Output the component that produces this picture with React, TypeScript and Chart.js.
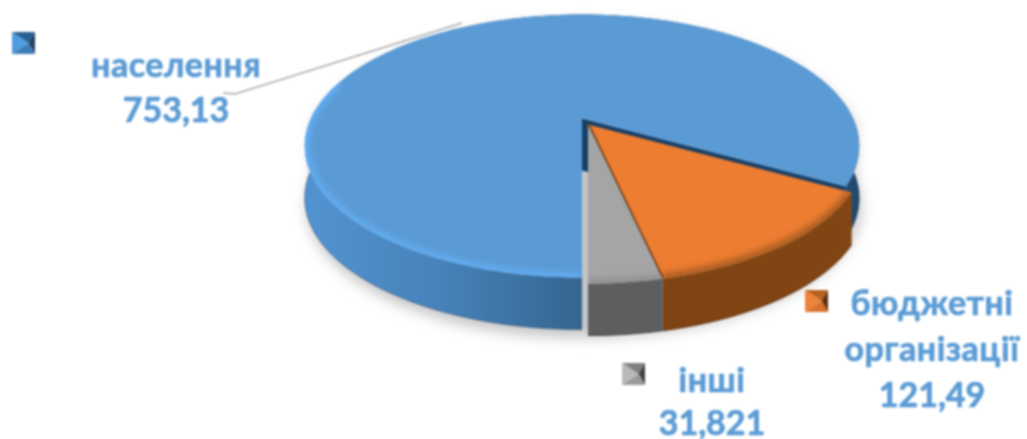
import React, { useEffect, useRef } from "react";
import { Chart, registerables } from "chart.js";

Chart.register(...registerables);

const categories = [["населення"], ["бюджетні", "організації"], ["інші"]];
const seriesValues = [753.13, 121.49, 31.821];
const valueLabels = ["753,13", "121,49", "31,821"];
const topColors = ["#5b9bd5", "#ed7d31", "#a5a5a5"];
const rimColors = ["#62aef4", "#a85c22", "#8f8f8f"];
const swatchLight = ["#4f9ae0", "#ee8238", "#b8b8b8"];
const swatchDark = ["#1f3f5f", "#5f2f0c", "#3f3f3f"];
const swatchTop = ["#2a5f92", "#b8601f", "#808080"];
const swatchBottom = ["#3d7cb8", "#d9722c", "#9a9a9a"];

// layout of the text blocks: centre x, first baseline, line step, swatch left/top
const labelCentres = [176, 932, 712];
const labelBaselines = [77, 315, 392];
const labelSteps = [45, 46, 43];
const swatchSpots = [[12, 32], [805, 290], [622, 363]];
const sliceShift = [[0, 0], [6, 6], [6, 6]];

const K = 0.2092;
const RX = 1.235;
const RY = 0.573;
const LIFT = -101;
const DEPTH = 52;

const piePlugin = {
  id: "pie3d",
  beforeDatasetDraw() {
    return false;
  },
  beforeDatasetsDraw(chart: any) {
    const ctx: CanvasRenderingContext2D = chart.ctx;
    const arcs = chart.getDatasetMeta(0).data as any[];
    const R = arcs[0].outerRadius;
    const cx = arcs[0].x;
    const cy = arcs[0].y + LIFT;
    const P = (a: number, r: number, ox: number, oy: number, z: number) => {
      const u = r * Math.cos(a);
      const v = r * Math.sin(a);
      const d = 1 - K * v;
      return [cx + ox + (R * RX * u) / d, cy + oy + (R * RY * v) / d + z * DEPTH];
    };
    const rim = (a0: number, a1: number, ox: number, oy: number, z: number) => {
      const n = Math.max(2, Math.ceil(Math.abs(a1 - a0) * 60));
      const pts: number[][] = [];
      for (let i = 0; i <= n; i++) pts.push(P(a0 + ((a1 - a0) * i) / n, 1, ox, oy, z));
      return pts;
    };
    const trace = (pts: number[][]) => {
      ctx.beginPath();
      pts.forEach((p, i) => (i ? ctx.lineTo(p[0], p[1]) : ctx.moveTo(p[0], p[1])));
    };
    const sideGrad = (i: number) => {
      const g = ctx.createLinearGradient(300, 0, 865, 0);
      if (i === 0) {
        g.addColorStop(0, "#5294d2");
        g.addColorStop(0.25, "#4782ba");
        g.addColorStop(0.5, "#34658f");
        g.addColorStop(0.9, "#35648f");
        g.addColorStop(1, "#1d4266");
      } else if (i === 1) {
        g.addColorStop(0, "#7a4012");
        g.addColorStop(1, "#824614");
      } else {
        g.addColorStop(0, "#5c5e60");
        g.addColorStop(1, "#5c5e60");
      }
      return g;
    };

    ctx.save();
    // soft ground shadow
    ctx.save();
    ctx.filter = "blur(7px)";
    ctx.fillStyle = "rgba(60,60,60,0.3)";
    trace(rim(0, Math.PI, 2, 8, 1).concat(rim(Math.PI, 2 * Math.PI, 2, 8, 0)));
    ctx.closePath();
    ctx.fill();
    ctx.restore();

    [0, 1, 2].forEach((i) => {
      const arc = arcs[i];
      const a0 = arc.startAngle;
      const a1 = arc.endAngle;
      const [ox, oy] = sliceShift[i];
      const top = rim(a0, a1, ox, oy, 0);
      const bottom = rim(a0, a1, ox, oy, 1).reverse();
      const hub = P(0, 0, ox, oy, 0);
      // inner radial wall of the big slice
      if (i === 0) {
        trace([hub, P(a1, 1, ox, oy, 0), P(a1, 1, ox, oy, 1), P(0, 0, ox, oy, 1)]);
        ctx.closePath();
        ctx.fillStyle = "#163f66";
        ctx.fill();
      }
      // outer wall
      trace(top.concat(bottom));
      ctx.closePath();
      ctx.fillStyle = sideGrad(i);
      ctx.fill();
      // dark lower edge
      ctx.save();
      ctx.strokeStyle = i === 2 ? "#3e4042" : i === 1 ? "#5a2c0a" : "rgba(28,63,96,0.55)";
      ctx.lineWidth = 1;
      trace(bottom);
      ctx.stroke();
      ctx.restore();
      // top face
      trace([hub, ...top]);
      ctx.closePath();
      ctx.fillStyle = topColors[i];
      ctx.fill();
      // soft bevel along the rim
      ctx.save();
      trace([hub, ...top]);
      ctx.closePath();
      ctx.clip();
      ctx.filter = "blur(3px)";
      ctx.strokeStyle = rimColors[i];
      ctx.lineWidth = i === 1 ? 10 : 9;
      trace(i === 0 ? rim(Math.PI / 2, Math.PI * 1.1, ox, oy, 0) : top);
      ctx.stroke();
      ctx.restore();
      if (i === 1) {
        ctx.save();
        ctx.strokeStyle = "#6b3610";
        ctx.lineWidth = 3;
        trace([hub, P(a1, 1, ox, oy, 0)]);
        ctx.stroke();
        ctx.restore();
      }
    });
    // leader line
    ctx.strokeStyle = "#a8a8a8";
    ctx.lineWidth = 1.5;
    trace([[223, 93], [235, 94], [462, 23]]);
    ctx.stroke();

    // labels and legend keys
    ctx.textAlign = "center";
    ctx.textBaseline = "alphabetic";
    ctx.font = "bold 34px Lato";
    ctx.lineWidth = 0.7;
    ctx.lineJoin = "round";
    categories.forEach((lines, i) => {
      ctx.fillStyle = "#5b9bd5";
      ctx.strokeStyle = "#5b9bd5";
      [...lines, valueLabels[i]].forEach((t, j) => {
        (ctx as any).letterSpacing = j < lines.length ? "0.5px" : "0px";
        const y = labelBaselines[i] + j * labelSteps[i];
        ctx.fillText(t, labelCentres[i], y);
        ctx.strokeText(t, labelCentres[i], y);
      });
      const [sx, sy] = swatchSpots[i];
      const w = 23;
      const h = 22;
      const mx = sx + w * 0.72;
      const my = sy + h / 2;
      const tri = (p: number[][], c: string) => {
        trace(p);
        ctx.closePath();
        ctx.fillStyle = c;
        ctx.fill();
      };
      tri([[sx, sy], [sx + w, sy], [mx, my]], swatchTop[i]);
      tri([[sx, sy], [sx, sy + h], [mx, my]], swatchLight[i]);
      tri([[sx + w, sy], [sx + w, sy + h], [mx, my]], swatchDark[i]);
      tri([[sx, sy + h], [sx + w, sy + h], [mx, my]], swatchBottom[i]);
    });
    ctx.restore();
  },
};

export default function App() {
  const ref = useRef<HTMLCanvasElement>(null);
  useEffect(() => {
    const chart = new Chart(ref.current as HTMLCanvasElement, {
      type: "pie",
      data: {
        labels: categories.map((c) => c.join(" ")),
        datasets: [{ data: seriesValues, backgroundColor: topColors, borderWidth: 0 }],
      },
      options: {
        responsive: false,
        animation: false,
        rotation: 180,
        layout: { padding: { left: 137 } },
        plugins: { legend: { display: false }, tooltip: { enabled: false }, title: { display: false } },
      },
      plugins: [piePlugin],
    } as any);
    return () => chart.destroy();
  }, []);
  return (
    <div style={{ position: "absolute", left: 0, top: 0, width: 1027, height: 439, overflow: "hidden", background: "#fff" }}>
      <canvas ref={ref} width={1027} height={439} style={{ display: "block", filter: "blur(0.8px)" }} />
    </div>
  );
}
